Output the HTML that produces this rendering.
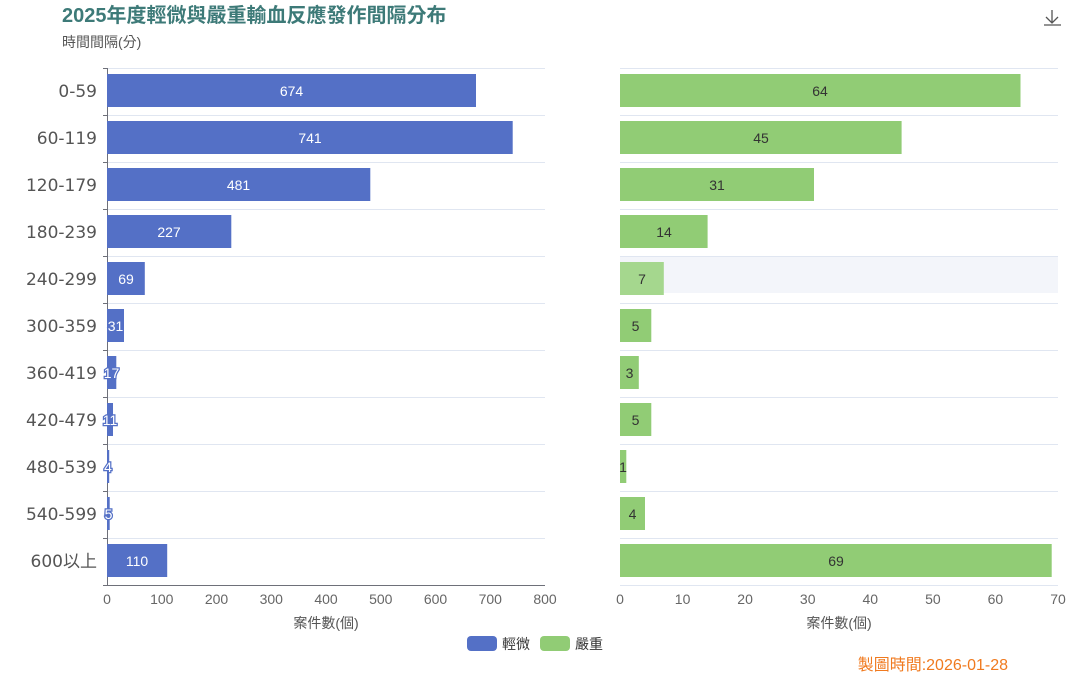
<!DOCTYPE html>
<html><head><meta charset="utf-8"><style>
body{margin:0;background:#fff;width:1068px;height:675px;overflow:hidden}
svg{font-family:"Liberation Sans","Noto Sans CJK TC",sans-serif}
.o{stroke:#5470c6;stroke-width:2.5;paint-order:stroke}
</style></head><body>
<svg width="1068" height="675" xmlns="http://www.w3.org/2000/svg">
<text x="62" y="22" font-size="20" font-weight="bold" fill="#3d7a78">2025年度輕微與嚴重輸血反應發作間隔分布</text>
<text x="62" y="47" font-size="14" fill="#555">時間間隔(分)</text>
<g stroke="#555" fill="none" stroke-width="1.3"><path d="M1052 10v13M1046 17l6 6 6-6M1044 25h17"/></g>
<rect x="620" y="256" width="438" height="37" fill="#f3f5fa"/>
<g stroke="#e0e6f1" stroke-width="1" fill="none">
<path d="M107 68.5H545M107 115.5H545M107 162.5H545M107 209.5H545M107 256.5H545M107 303.5H545M107 350.5H545M107 397.5H545M107 444.5H545M107 491.5H545M107 538.5H545"/>
<path d="M620 68.5H1058M620 115.5H1058M620 162.5H1058M620 209.5H1058M620 256.5H1058M620 303.5H1058M620 350.5H1058M620 397.5H1058M620 444.5H1058M620 491.5H1058M620 538.5H1058M620 585.5H1058"/>
</g>
<g stroke="#6e7079" stroke-width="1" fill="none">
<path d="M107.5 68V585.5H545M103 68.5H107M103 115.5H107M103 162.5H107M103 209.5H107M103 256.5H107M103 303.5H107M103 350.5H107M103 397.5H107M103 444.5H107M103 491.5H107M103 538.5H107M103 585.5H107"/>
</g>
<g fill="#5470c6">
<rect x="107" y="74" width="369" height="33"/>
<rect x="107" y="121" width="405.7" height="33"/>
<rect x="107" y="168" width="263.3" height="33"/>
<rect x="107" y="215" width="124.3" height="33"/>
<rect x="107" y="262" width="37.8" height="33"/>
<rect x="107" y="309" width="17" height="33"/>
<rect x="107" y="356" width="9.3" height="33"/>
<rect x="107" y="403" width="6" height="33"/>
<rect x="107" y="450" width="2.2" height="33"/>
<rect x="107" y="497" width="2.7" height="33"/>
<rect x="107" y="544" width="60.2" height="33"/>
</g>
<g fill="#91cc75">
<rect x="620" y="74" width="400.5" height="33"/>
<rect x="620" y="121" width="281.6" height="33"/>
<rect x="620" y="168" width="194" height="33"/>
<rect x="620" y="215" width="87.6" height="33"/>
<rect x="620" y="262" width="43.8" height="33" fill="#a5d78e"/>
<rect x="620" y="309" width="31.3" height="33"/>
<rect x="620" y="356" width="18.8" height="33"/>
<rect x="620" y="403" width="31.3" height="33"/>
<rect x="620" y="450" width="6.3" height="33"/>
<rect x="620" y="497" width="25" height="33"/>
<rect x="620" y="544" width="431.7" height="33"/>
</g>
<g font-size="14" fill="#fff" text-anchor="middle">
<text x="291.5" y="96">674</text><text x="310" y="143">741</text><text x="238.5" y="190">481</text><text x="169" y="237">227</text><text x="126" y="284">69</text><text class="o" x="115.5" y="331">31</text><text class="o" x="111.5" y="378">17</text><text class="o" x="110" y="425">11</text><text class="o" x="108" y="472">4</text><text class="o" x="108.5" y="519">5</text><text x="137" y="566">110</text>
</g>
<g font-size="14" fill="#333" text-anchor="middle">
<text x="820" y="96">64</text><text x="761" y="143">45</text><text x="717" y="190">31</text><text x="664" y="237">14</text><text x="642" y="284">7</text><text x="635.5" y="331">5</text><text x="629.5" y="378">3</text><text x="635.5" y="425">5</text><text x="623" y="472">1</text><text x="632.5" y="519">4</text><text x="836" y="566">69</text>
</g>
<g font-size="17" fill="#555" text-anchor="end" font-family="DejaVu Sans, Noto Sans CJK TC, sans-serif">
<text x="97" y="97">0-59</text><text x="97" y="144">60-119</text><text x="97" y="191">120-179</text><text x="97" y="238">180-239</text><text x="97" y="285">240-299</text><text x="97" y="332">300-359</text><text x="97" y="379">360-419</text><text x="97" y="426">420-479</text><text x="97" y="473">480-539</text><text x="97" y="520">540-599</text><text x="97" y="567">600以上</text>
</g>
<g font-size="14" fill="#666" text-anchor="middle">
<text x="107" y="604">0</text><text x="161.75" y="604">100</text><text x="216.5" y="604">200</text><text x="271.25" y="604">300</text><text x="326" y="604">400</text><text x="380.75" y="604">500</text><text x="435.5" y="604">600</text><text x="490.25" y="604">700</text><text x="545" y="604">800</text>
<text x="620" y="604">0</text><text x="682.6" y="604">10</text><text x="745.1" y="604">20</text><text x="807.7" y="604">30</text><text x="870.3" y="604">40</text><text x="932.9" y="604">50</text><text x="995.4" y="604">60</text><text x="1058" y="604">70</text>
<text x="326" y="628" fill="#555">案件數(個)</text><text x="839" y="628" fill="#555">案件數(個)</text>
</g>
<rect x="467" y="636" width="30" height="15" rx="4" fill="#5470c6"/>
<text x="502" y="649" font-size="14" fill="#333">輕微</text>
<rect x="540" y="636" width="30" height="15" rx="4" fill="#91cc75"/>
<text x="575" y="649" font-size="14" fill="#333">嚴重</text>
<text x="1008" y="670" font-size="16" fill="#f07a1f" text-anchor="end">製圖時間:2026-01-28</text>
</svg>
</body></html>
